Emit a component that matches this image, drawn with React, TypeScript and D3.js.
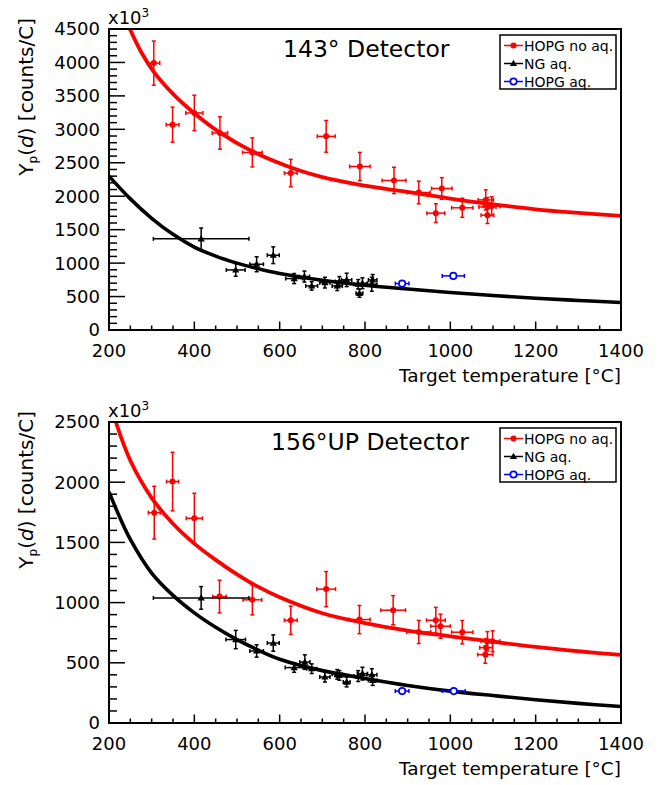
import React from "react";
import * as d3 from "d3";

const W = 665;
const H = 785;

const X_TICKS = [200, 400, 600, 800, 1000, 1200, 1400];
const Y_TICKS_143 = [0, 500, 1000, 1500, 2000, 2500, 3000, 3500, 4000, 4500];
const Y_TICKS_156 = [0, 500, 1000, 1500, 2000, 2500];

// [T, Y, dT, dY]
const HOPG_NOAQ_143 = [
  [305, 3990, 14, 330], [349, 3070, 15, 262], [400, 3245, 20, 265], [460, 2945, 18, 242],
  [536, 2655, 23, 217], [626, 2346, 15, 205], [709, 2895, 21, 237], [788, 2445, 24, 210],
  [868, 2236, 28, 197], [926, 2056, 27, 170], [966, 1747, 21, 140], [980, 2116, 24, 162],
  [1028, 1827, 25, 142], [1083, 1945, 18, 150], [1087, 1840, 20, 140], [1087, 1717, 15, 125],
  [1097, 1850, 20, 142],
];
const NG_AQ_143 = [
  [416, 1363, 112, 162], [497, 898, 22, 95], [546, 983, 16, 112], [585, 1118, 14, 125],
  [634, 769, 20, 75], [658, 799, 12, 82], [675, 659, 14, 62], [706, 708, 12, 80],
  [735, 659, 12, 70], [740, 724, 10, 75], [757, 749, 12, 100], [787, 549, 8, 60],
  [784, 684, 10, 70], [794, 699, 12, 80], [816, 684, 12, 105], [818, 749, 10, 80],
];
const HOPG_AQ_143 = [
  [887, 694, 16, 0], [1007, 809, 26, 0],
];

const HOPG_NOAQ_156 = [
  [306, 1747, 14, 219], [349, 2005, 14, 243], [400, 1700, 19, 208], [459, 1050, 16, 136],
  [536, 1023, 22, 125], [626, 853, 15, 118], [709, 1112, 22, 146], [787, 859, 25, 117],
  [866, 937, 29, 121], [926, 756, 28, 96], [966, 853, 22, 107], [977, 804, 23, 100],
  [1028, 754, 25, 97], [1087, 679, 15, 80], [1084, 626, 15, 75], [1082, 568, 18, 72],
  [1099, 679, 17, 87],
];
const NG_AQ_156 = [
  [416, 1039, 112, 94], [497, 693, 23, 76], [546, 598, 16, 51], [585, 664, 14, 68],
  [634, 460, 21, 39], [659, 506, 12, 60], [675, 451, 12, 40], [706, 382, 12, 42],
  [735, 404, 12, 40], [740, 395, 10, 40], [757, 340, 8, 40], [784, 390, 10, 45],
  [794, 410, 12, 53], [816, 401, 12, 50], [818, 354, 10, 42],
];
const HOPG_AQ_156 = [
  [887, 265, 16, 0], [1008, 265, 27, 0],
];

// fit curves [T, Y]
const FIT_HOPG_143 = [
  [249, 4500], [275, 4160], [305, 3860], [350, 3530], [400, 3240], [460, 2950], [536, 2670],
  [626, 2430], [700, 2285], [788, 2170], [860, 2100], [926, 2040], [1000, 1965], [1087, 1890],
  [1200, 1805], [1300, 1752], [1400, 1707],
];
const FIT_NG_143 = [
  [200, 2300], [250, 1960], [300, 1670], [350, 1430], [400, 1240], [450, 1105], [500, 1000],
  [550, 915], [600, 845], [700, 745], [800, 670], [900, 612], [1000, 560], [1100, 515],
  [1200, 475], [1300, 442], [1400, 412],
];
const FIT_HOPG_156 = [
  [216, 2500], [250, 2180], [300, 1870], [350, 1655], [400, 1490], [450, 1355], [500, 1235],
  [550, 1130], [600, 1045], [700, 912], [800, 830], [900, 768], [1000, 720], [1100, 675],
  [1200, 632], [1300, 596], [1400, 565],
];
const FIT_NG_156 = [
  [200, 1920], [225, 1710], [250, 1525], [300, 1245], [350, 1060], [400, 915], [450, 795],
  [500, 692], [550, 605], [600, 530], [700, 435], [800, 370], [900, 312], [1000, 265],
  [1100, 228], [1200, 193], [1300, 163], [1400, 137],
];

const LEGEND_LABELS = ["HOPG no aq.", "NG aq.", "HOPG aq."];
const RED = "#ff0000";
const BLUE = "#0000ff";
const FONT = "DejaVu Sans";

const panels = [
  {
    key: "p143", title: "143° Detector", titleX: 283, top: 29, bottom: 330, yMax: 4500,
    yTicks: Y_TICKS_143, red: HOPG_NOAQ_143, black: NG_AQ_143, blue: HOPG_AQ_143,
    fitRed: FIT_HOPG_143, fitBlack: FIT_NG_143,
  },
  {
    key: "p156", title: "156°UP Detector", titleX: 271, top: 422, bottom: 723, yMax: 2500,
    yTicks: Y_TICKS_156, red: HOPG_NOAQ_156, black: NG_AQ_156, blue: HOPG_AQ_156,
    fitRed: FIT_HOPG_156, fitBlack: FIT_NG_156,
  },
];

const LEFT = 109;
const RIGHT = 621;

function ErrPoints({ data, x, y, color, marker }: any) {
  const cap = 2;
  return (
    <g>
      {data.map((d: number[], i: number) => {
        const cx = x(d[0]);
        const cy = y(d[1]);
        const x0 = x(d[0] - d[2]);
        const x1 = x(d[0] + d[2]);
        const y0 = y(d[1] - d[3]);
        const y1 = y(d[1] + d[3]);
        return (
          <g key={i} stroke={color} strokeWidth={1.5}>
            <line x1={x0} x2={x1} y1={cy} y2={cy} />
            <line x1={x0} x2={x0} y1={cy - cap} y2={cy + cap} />
            <line x1={x1} x2={x1} y1={cy - cap} y2={cy + cap} />
            {d[3] > 0 && (
              <g>
                <line x1={cx} x2={cx} y1={y0} y2={y1} />
                <line x1={cx - cap} x2={cx + cap} y1={y0} y2={y0} />
                <line x1={cx - cap} x2={cx + cap} y1={y1} y2={y1} />
              </g>
            )}
          </g>
        );
      })}
      {data.map((d: number[], i: number) => (
        <Marker key={"m" + i} kind={marker} cx={x(d[0])} cy={y(d[1])} color={color} />
      ))}
    </g>
  );
}

function Marker({ kind, cx, cy, color }: any) {
  if (kind === "circle") return <circle cx={cx} cy={cy} r={3} fill={color} />;
  if (kind === "open") return <circle cx={cx} cy={cy} r={3.2} fill="white" stroke={color} strokeWidth={1.7} />;
  const p = `M${cx},${cy - 3.8}L${cx - 3.6},${cy + 2.6}L${cx + 3.6},${cy + 2.6}Z`;
  return <path d={p} fill={color} />;
}

function Panel({ p }: any) {
  const x = d3.scaleLinear().domain([200, 1400]).range([LEFT, RIGHT]);
  const y = d3.scaleLinear().domain([0, p.yMax]).range([p.bottom, p.top]);
  const line = d3
    .line<number[]>()
    .x((d) => x(d[0]))
    .y((d) => y(d[1]))
    .curve(d3.curveCatmullRom.alpha(0.5));
  const xMinor = d3.range(200, 1401, 50);
  const yMinor = d3.range(0, p.yMax + 1, 100);
  const legTop = p.top + 6;
  const legRows = [
    { color: RED, marker: "circle" },
    { color: "black", marker: "tri" },
    { color: BLUE, marker: "open" },
  ];
  return (
    <g fontFamily={FONT}>
      <defs>
        <clipPath id={"clip" + p.key}>
          <rect x={LEFT} y={p.top} width={RIGHT - LEFT} height={p.bottom - p.top} />
        </clipPath>
      </defs>
      {/* fit curves */}
      <g clipPath={`url(#clip${p.key})`} fill="none">
        <path d={line(p.fitRed) || ""} stroke={RED} strokeWidth={3.8} />
        <path d={line(p.fitBlack) || ""} stroke="black" strokeWidth={3.6} />
      </g>
      {/* data */}
      <ErrPoints data={p.red} x={x} y={y} color={RED} marker="circle" />
      <ErrPoints data={p.black} x={x} y={y} color="black" marker="tri" />
      <ErrPoints data={p.blue} x={x} y={y} color={BLUE} marker="open" />
      {/* frame */}
      <rect x={LEFT} y={p.top} width={RIGHT - LEFT} height={p.bottom - p.top} fill="none" stroke="black" strokeWidth={2} />
      {/* x ticks */}
      {xMinor.map((t: number) => {
        const major = t % 200 === 0;
        return (
          <line key={"xt" + t} x1={x(t)} x2={x(t)} y1={p.bottom} y2={p.bottom - (major ? 8.5 : 4.5)} stroke="black" strokeWidth={1.5} />
        );
      })}
      {X_TICKS.map((t: number) => (
        <text key={"xl" + t} x={x(t)} y={p.bottom + 27} fontSize={18} textAnchor="middle" fill="black">
          {t}
        </text>
      ))}
      <text x={RIGHT} y={p.bottom + 52} fontSize={18.5} textAnchor="end" fill="black">
        Target temperature [°C]
      </text>
      {/* y ticks */}
      {yMinor.map((t: number) => {
        const major = t % 500 === 0;
        return (
          <line key={"yt" + t} x1={LEFT} x2={LEFT + (major ? 16 : 8)} y1={y(t)} y2={y(t)} stroke="black" strokeWidth={1.5} />
        );
      })}
      {p.yTicks.map((t: number) => (
        <text key={"yl" + t} x={100} y={y(t)} dy="0.36em" fontSize={18} textAnchor="end" fill="black">
          {t}
        </text>
      ))}
      <text x={LEFT - 1} y={p.top - 5} fontSize={18} fill="black">
        x10<tspan fontSize={12} dy={-7}>3</tspan>
      </text>
      <text transform={`translate(33,${p.top - 11}) rotate(-90)`} fontSize={20} textAnchor="end" fill="black">
        Y<tspan fontSize={12} dy={4}>p</tspan>
        <tspan dy={-4}>(</tspan>
        <tspan fontStyle="italic">d</tspan>
        <tspan>) [counts/C]</tspan>
      </text>
      {/* title */}
      <text x={p.titleX} y={p.top + 28} fontSize={23.5} fill="black">
        {p.title}
      </text>
      {/* legend */}
      <rect x={500} y={legTop} width={116} height={54} fill="white" stroke="black" strokeWidth={1.5} />
      {LEGEND_LABELS.map((lab: string, i: number) => {
        const by = legTop + 15.5 + i * 18;
        const ly = by - 5;
        const r = legRows[i];
        return (
          <g key={"lg" + i}>
            <line x1={504} x2={523} y1={ly} y2={ly} stroke={r.color} strokeWidth={1.5} />
            <Marker kind={r.marker} cx={513.5} cy={ly} color={r.color} />
            <text x={524} y={by} fontSize={14} fill="black">
              {lab}
            </text>
          </g>
        );
      })}
    </g>
  );
}

export default function App() {
  return (
    <svg width={W} height={H} style={{ position: "absolute", left: 0, top: 0, background: "white" }}>
      <rect x={0} y={0} width={W} height={H} fill="white" />
      {panels.map((p) => (
        <Panel key={p.key} p={p} />
      ))}
    </svg>
  );
}
